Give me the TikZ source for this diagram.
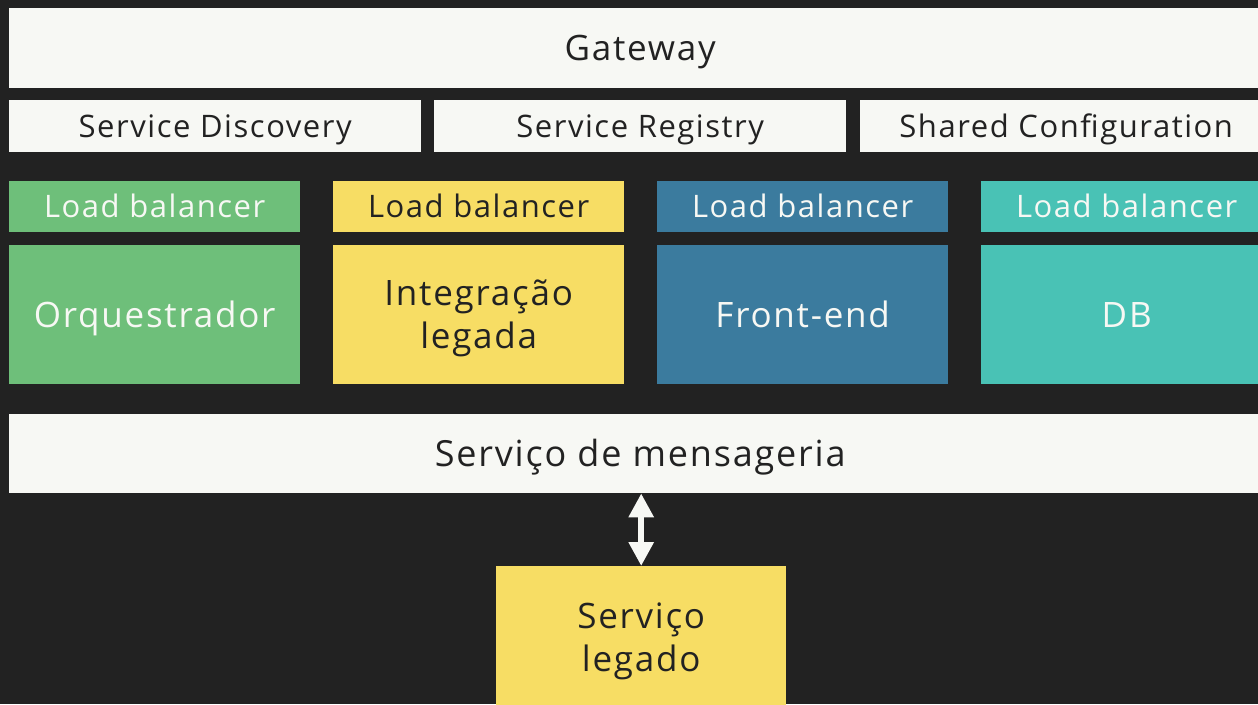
\documentclass[tikz,border=0pt]{standalone}
\usepackage{fontspec}
\setmainfont[LetterSpace=5]{Open Sans}
\usetikzlibrary{arrows.meta}
\definecolor{mydark}{RGB}{34,34,34}
\definecolor{mylight}{RGB}{247,248,244}
\definecolor{mygreen}{RGB}{110,191,122}
\definecolor{myyellow}{RGB}{247,221,100}
\definecolor{myblue}{RGB}{59,123,158}
\definecolor{myturk}{RGB}{73,194,181}
\begin{document}
\begin{tikzpicture}[x=1pt,y=-1pt,
	every node/.style={anchor=north west,inner sep=0pt,align=center,text depth=0pt},
	smallfont/.style={font=\fontsize{31}{37}\selectfont,text height=22pt},
	bigfont/.style={font=\fontsize{35}{43}\selectfont,text height=25pt},
	twoline/.style={text height=68pt},
	lightbox/.style={fill=mylight,text=mydark,smallfont},
	lbbox/.style={minimum width=291pt,minimum height=51pt,smallfont},
	svcbox/.style={minimum width=291pt,minimum height=139pt,bigfont},
	darktext/.style={text=mydark},
	brighttext/.style={text=mylight},
	]
	
	% background
	\fill[mydark] (0,0) rectangle (1258,704);
	\useasboundingbox (0,0) rectangle (1258,704);
	
	% top bars
	\node[lightbox,bigfont,minimum width=1262pt,minimum height=80pt] (gateway) at (9,8) {Gateway};
	\node[lightbox,minimum width=412pt,minimum height=52pt] (discovery) at (9,100) {Service Discovery};
	\node[lightbox,minimum width=412pt,minimum height=52pt] (registry) at (434,100) {Service Registry};
	\node[lightbox,minimum width=412pt,minimum height=52pt] (config) at (860,100) {Shared Configuration};
	
	% load balancers and services
	\foreach \i/\c/\t/\name/\s in {0/mygreen/brighttext/Orquestrador/,
		1/myyellow/darktext/Integração\\legada/twoline,
		2/myblue/brighttext/Front-end/,
		3/myturk/brighttext/DB/} {
		\node[lbbox,fill=\c,\t] (lb\i) at (9+324*\i,181) {Load balancer};
		\node[svcbox,fill=\c,\t,\s] (svc\i) at (9+324*\i,245) {\name};
	}
	
	% messaging
	\node[lightbox,font=\fontsize{36}{43}\selectfont,text height=26pt,minimum width=1262pt,minimum height=79pt] (msg) at (9,414) {Serviço de mensageria};
	
	% legacy
	\node[svcbox,twoline,fill=myyellow,darktext,minimum width=290pt,minimum height=142pt] (legacy) at (496,566) {Serviço\\legado};
	
	\draw[mylight,line width=6pt,{Triangle[width=24pt,length=24pt]}-{Triangle[width=24pt,length=24pt]}]
		(msg.south -| legacy.north) -- (legacy.north);
	
\end{tikzpicture}
\end{document}
